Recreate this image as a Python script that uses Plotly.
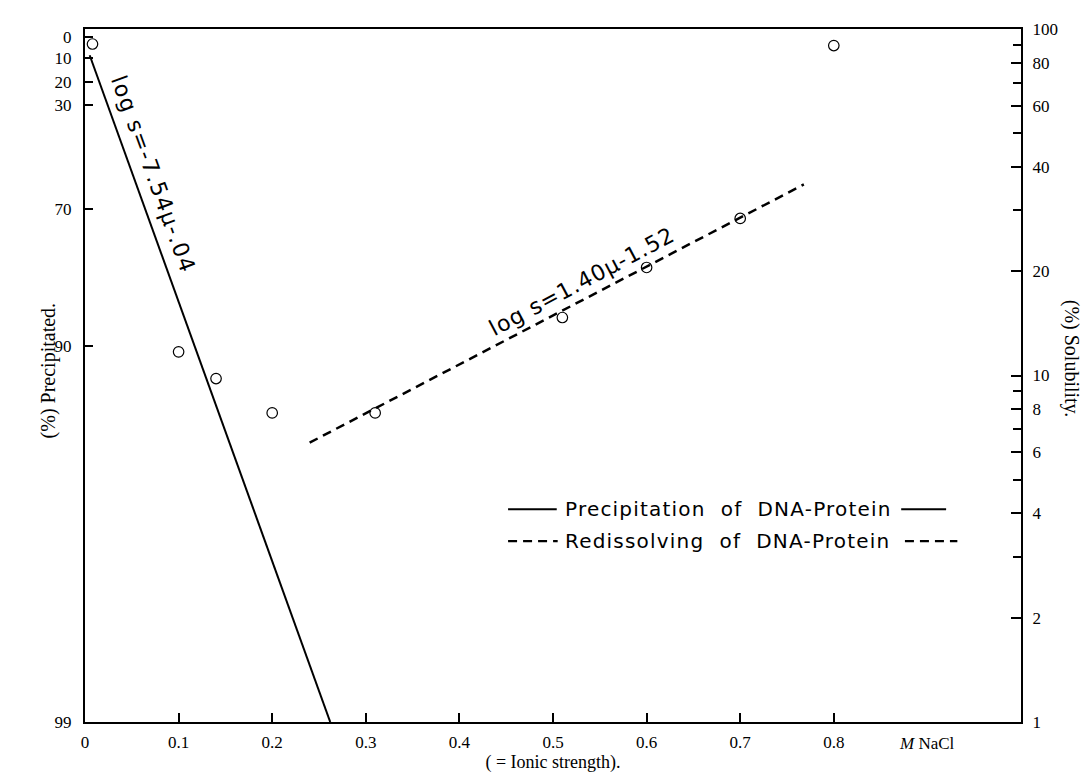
import math
import plotly.graph_objects as go

# ---------------- data ----------------
mu_points = [0.008, 0.10, 0.14, 0.20, 0.31, 0.51, 0.60, 0.70, 0.80]
sol_points = [90.5, 11.7, 9.8, 7.8, 7.8, 14.7, 20.5, 28.4, 89.6]

precip_line_mu = [0.005, 0.262]
precip_line_sol = [84.0, 1.0]
redis_line_mu = [0.24, 0.768]
redis_line_sol = [6.4, 35.6]

x_tickvals = [0, 0.1, 0.2, 0.3, 0.4, 0.5, 0.6, 0.7, 0.8]
x_ticktext = ["0", "0.1", "0.2", "0.3", "0.4", "0.5", "0.6", "0.7", "0.8"]
right_tickvals = [1, 2, 4, 6, 8, 10, 20, 40, 60, 80, 100]
right_ticktext = ["1", "2", "4", "6", "8", "10", "20", "40", "60", "80", "100"]
right_minor = [3, 5, 7, 9, 30, 50, 70, 90]
left_tickvals = [95.0, 82.6, 70.5, 60.5, 30.3, 12.2, 1.0]
left_ticktext = ["0", "10", "20", "30", "70", "90", "99"]

eq1_text = "log s=-7.54μ-.04"
eq2_text = "log s=1.40μ-1.52"
NB2 = "\u00a0\u00a0"
legend_names = ["Precipitation" + NB2 + "of" + NB2 + "DNA-Protein",
                "Redissolving" + NB2 + "of" + NB2 + "DNA-Protein"]

SERIF = "Liberation Serif, DejaVu Serif, serif"
SANS = "DejaVu Sans, Liberation Sans, sans-serif"


def spaced(txt, px):
    return '<span style="letter-spacing:%.1fpx">%s</span>' % (px, txt)


fig = go.Figure()
fig.add_trace(go.Scatter(x=precip_line_mu, y=precip_line_sol, mode="lines",
                         line=dict(color="black", width=2), showlegend=False))
fig.add_trace(go.Scatter(x=redis_line_mu, y=redis_line_sol, mode="lines",
                         line=dict(color="black", width=2.5, dash="9px,6px"),
                         showlegend=False))
fig.add_trace(go.Scatter(x=mu_points, y=sol_points, mode="markers",
                         marker=dict(symbol="circle-open", size=10.5, color="black",
                                     line=dict(width=1.2, color="black")),
                         showlegend=False))
fig.add_trace(go.Scatter(x=[None], y=[None], yaxis="y2", showlegend=False))

tickfont = dict(family=SERIF, size=17, color="black")

fig.update_layout(
    width=1089, height=774,
    margin=dict(l=77, r=76, t=17, b=60),
    paper_bgcolor="white", plot_bgcolor="white",
    showlegend=False,
    xaxis=dict(range=[0, 1.0], tickvals=x_tickvals, ticktext=x_ticktext,
               ticks="inside", ticklen=9, tickwidth=1.5, tickcolor="black",
               showline=True, linecolor="black", linewidth=2, mirror=True,
               showgrid=False, zeroline=False, tickfont=tickfont,
               ticklabelstandoff=4,
               title=dict(text="( = Ionic strength).",
                          font=dict(family=SERIF, size=18, color="black"),
                          standoff=0)),
    yaxis=dict(type="log", range=[0, 2], side="right",
               tickvals=right_tickvals, ticktext=right_ticktext,
               ticks="inside", ticklen=10, tickwidth=1.8, tickcolor="black",
               showline=True, linecolor="black", linewidth=2,
               showgrid=False, zeroline=False, tickfont=tickfont,
               ticklabelstandoff=6,
               minor=dict(tickvals=right_minor, ticks="inside", ticklen=8,
                          tickwidth=1.5, tickcolor="black", showgrid=False)),
    yaxis2=dict(type="log", range=[0, 2], side="left", overlaying="y",
                tickvals=left_tickvals, ticktext=left_ticktext,
                ticks="inside", ticklen=8, tickwidth=1.5, tickcolor="black",
                showline=True, linecolor="black", linewidth=2,
                showgrid=False, zeroline=False, tickfont=tickfont,
                ticklabelstandoff=8),
)

ann = []
# equations along the lines
ann.append(dict(x=0.073, y=1.58, xref="x", yref="y",
                text=spaced(eq1_text, 1.5),
                showarrow=False, textangle=70,
                font=dict(family=SANS, size=22, color="black")))
ann.append(dict(x=0.531, y=1.27, xref="x", yref="y",
                text=spaced(eq2_text, 1.0),
                showarrow=False, textangle=-28,
                font=dict(family=SANS, size=22, color="black")))
# x unit label
ann.append(dict(x=0.9, y=-0.031, xref="x", yref="paper", text="<i>M</i> NaCl",
                showarrow=False, yanchor="middle", font=tickfont))
# axis titles
ann.append(dict(x=-0.0524, y=0.508, xref="paper", yref="paper",
                text="(%) Precipitated.", showarrow=False, textangle=-90,
                font=dict(family=SERIF, size=20, color="black")))
ann.append(dict(x=1.068, y=0.524, xref="paper", yref="paper",
                text="(%) Solubility.", showarrow=False, textangle=90,
                font=dict(family=SERIF, size=20, color="black")))

# legend (drawn by hand: line sample, name, trailing line sample)
leg_y = [0.307, 0.261]
leg_dash = ["solid", "9px,6px"]
leg_lead = [(0.452, 0.504), (0.452, 0.505)]
leg_trail = [(0.872, 0.920), (0.876, 0.932)]
shapes = []
for i in range(2):
    for seg in (leg_lead[i], leg_trail[i]):
        shapes.append(dict(type="line", xref="paper", yref="paper",
                           x0=seg[0], x1=seg[1], y0=leg_y[i], y1=leg_y[i],
                           line=dict(color="black", width=2.2, dash=leg_dash[i])))
    ann.append(dict(x=0.511, y=leg_y[i], xref="paper", yref="paper",
                    text=spaced(legend_names[i], 1.2), showarrow=False,
                    xanchor="left", yanchor="middle",
                    font=dict(family=SANS, size=20, color="black")))

fig.update_layout(annotations=ann, shapes=shapes)
fig.write_html("out.html")
